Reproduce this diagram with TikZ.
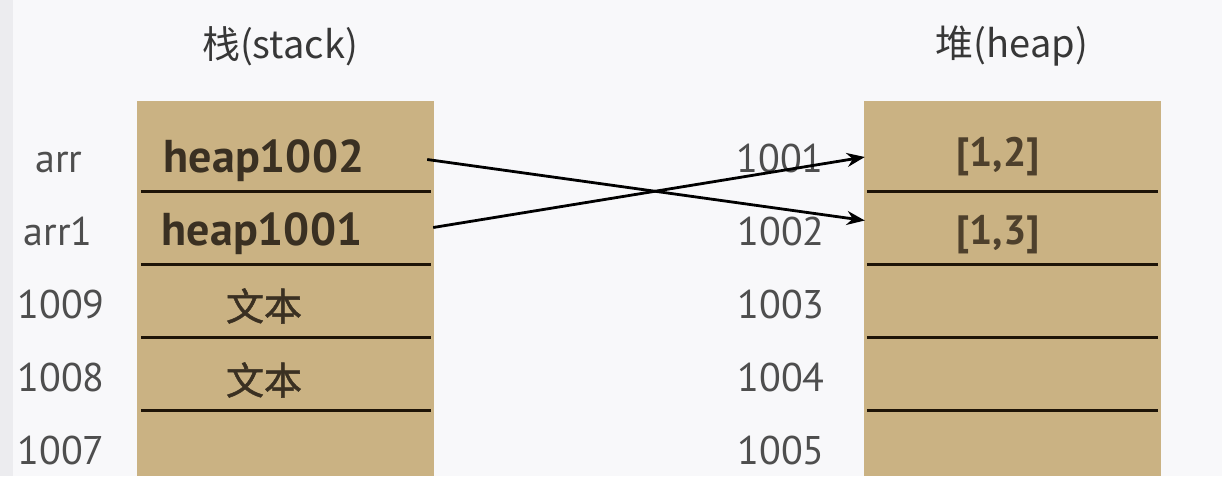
\documentclass[tikz,border=0pt]{standalone}
\usepackage{fontspec}
\setmainfont{PT Sans}
\newfontfamily\cjk{Noto Sans CJK SC}
\newfontfamily\cjkb[FakeBold=1.3]{Noto Sans CJK SC}
\usetikzlibrary{arrows.meta,calc}
\definecolor{bgc}{RGB}{248,248,250}
\definecolor{stripc}{RGB}{236,236,239}
\definecolor{boxc}{RGB}{202,178,131}
\definecolor{sepc}{RGB}{30,20,8}
\definecolor{labc}{RGB}{78,78,78}
\definecolor{cellc}{RGB}{58,48,34}
\definecolor{valc}{RGB}{78,64,44}
\definecolor{titc}{RGB}{55,55,55}
\tikzset{
  cell/.style={minimum width=297pt,minimum height=73pt,inner sep=0pt,draw=none},
  seprule/.style={draw=sepc,line width=2.8pt},
  addr/.style={anchor=base,text=labc,font=\fontsize{40}{48}\selectfont,inner sep=0pt},
  celltext/.style={anchor=base,text=cellc,font=\fontsize{46}{54}\selectfont\bfseries,inner sep=0pt},
  cjktext/.style={text=cellc,font=\fontsize{38}{46}\selectfont\cjkb,inner sep=0pt},
  valtext/.style={anchor=base,text=valc,font=\fontsize{41}{49}\selectfont\bfseries,inner sep=0pt},
  title/.style={text=titc,font=\fontsize{38}{46}\selectfont\cjk,inner sep=0pt},
  ptr/.style={draw=black,line width=2.8pt,-{Stealth[length=18pt,width=14pt]}}
}
\begin{document}
\begin{tikzpicture}[x=1pt,y=-1pt]
\useasboundingbox (0,0) rectangle (1222,476);
\fill[bgc] (0,0) rectangle (1222,476);
\fill[stripc] (0,0) rectangle (13,476);
% boxes
\fill[boxc] (137,101) rectangle (434,476);
\fill[boxc] (864,101) rectangle (1161,476);
% titles
\node[title] (tstack) at (280,46) {栈(stack)};
\node[title] (theap) at (1012,46) {堆(heap)};
% cells
\foreach \i in {1,...,5}{
  \node[cell] (s\i) at (285.5,{154.5+73*(\i-1)}) {};
  \node[cell] (h\i) at (1012.5,{154.5+73*(\i-1)}) {};
}
\foreach \i in {1,...,4}{
  \draw[seprule] ($(s\i.south west)+(4,0)$) -- ($(s\i.south east)+(-3,0)$);
  \draw[seprule] ($(h\i.south west)+(3,0)$) -- ($(h\i.south east)+(-3,0)$);
}
% left labels
\node[addr] (la1) at (59,172) {arr};
\node[addr] (la2) at (58,245) {arr1};
\node[addr] (la3) at (61,318) {1009};
\node[addr] (la4) at (61,391) {1008};
\node[addr] (la5) at (61,464) {1007};
% right labels
\node[addr] (ra1) at (780,172) {1001};
\node[addr] (ra2) at (781,245) {1002};
\node[addr] (ra3) at (781,318) {1003};
\node[addr] (ra4) at (781,391) {1004};
\node[addr] (ra5) at (781,464) {1005};
% cell texts
\node[celltext] (c1) at (264,172) {heap1002};
\node[celltext] (c2) at (262,245) {heap1001};
\node[cjktext] (c3) at (264,306) {文本};
\node[cjktext] (c4) at (264,380) {文本};
\node[valtext] (v1) at (998,166) {[1,2]};
\node[valtext] (v2) at (998,244) {[1,3]};
% pointers
\draw[ptr] ($(s1.east)+(-7,5)$) -- ($(h2.west)+(1,-7)$);
\draw[ptr] ($(s2.east)+(-1,0)$) -- ($(h1.west)+(1,2.5)$);
\end{tikzpicture}
\end{document}
